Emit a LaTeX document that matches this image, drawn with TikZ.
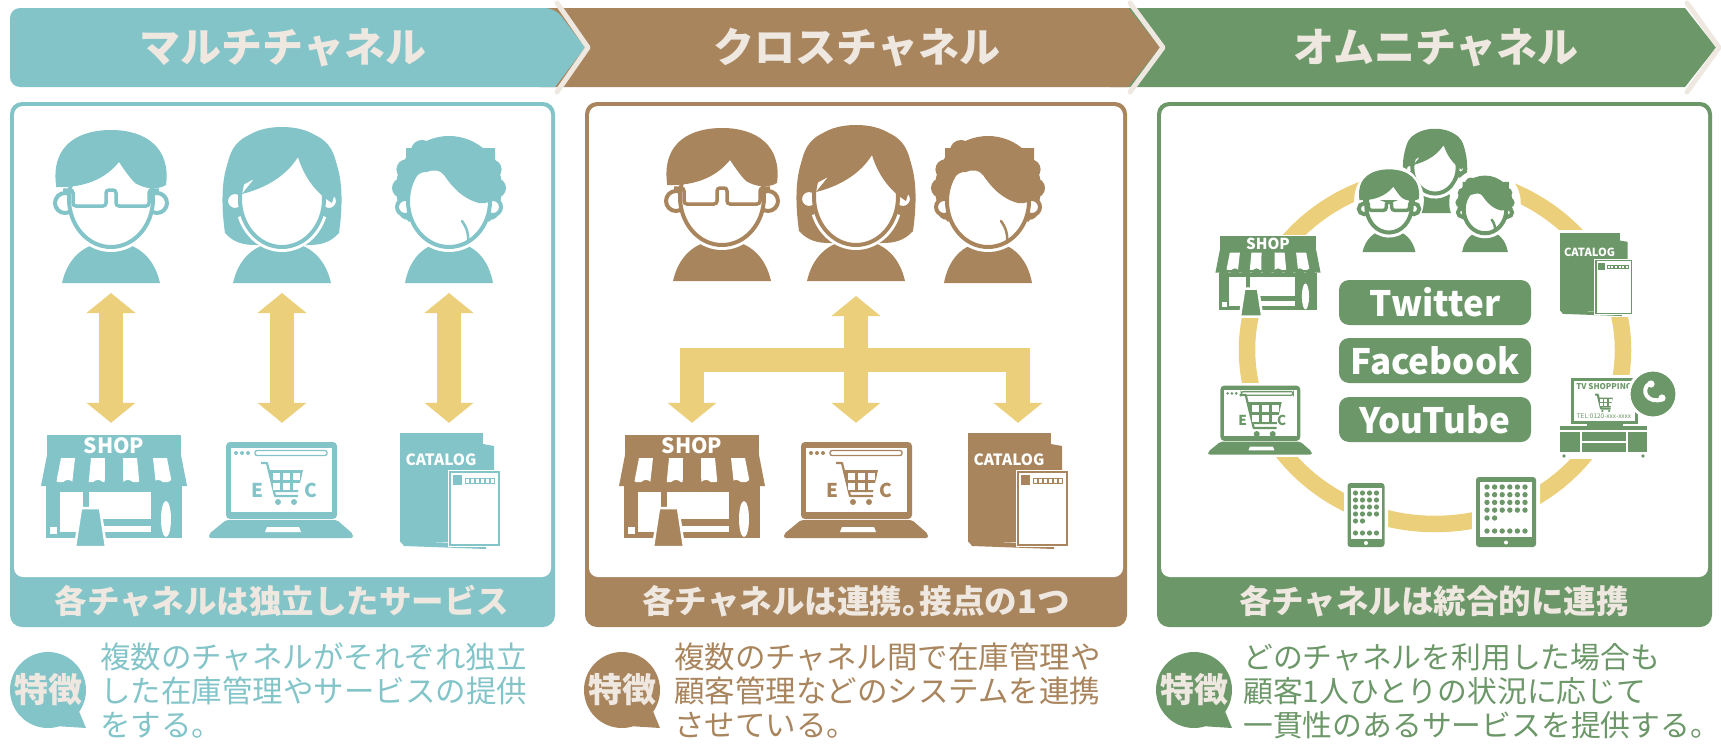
\documentclass[tikz,border=0pt]{standalone}
\usepackage{fontspec}
\setmainfont{Noto Sans CJK JP}
\usepackage{tikz}
\usetikzlibrary{arrows.meta,positioning,calc}

\definecolor{mcol}{RGB}{130,196,200}
\definecolor{ccol}{RGB}{169,133,94}
\definecolor{ocol}{RGB}{108,151,104}
\definecolor{arrcol}{RGB}{236,207,122}
\definecolor{lightc}{RGB}{238,232,225}

\newcommand{\pxfont}[2]{\fontsize{#1}{#2}\selectfont}

\tikzset{
  % people, origin at the bottom middle of the shoulders
  pics/guy/.style={code={
    \path[fill=white, draw=white, line width=7pt]
      (-49,0) .. controls (-44,-22) and (-30,-40) .. (0,-42)
      .. controls (30,-40) and (44,-22) .. (49,0) -- cycle
      (0,-96) ellipse [x radius=58, y radius=60];
    \fill[#1] (-49,0) .. controls (-44,-22) and (-30,-40) .. (0,-42)
      .. controls (30,-40) and (44,-22) .. (49,0) -- cycle;
    \begin{scope}[shift={(0,-84)}]
      \draw[white, line width=10pt] (25:42 and 48) arc [start angle=25, end angle=155, x radius=42, y radius=48];
    \end{scope}
    \filldraw[fill=white, draw=#1, line width=4pt]
      (-46,-80) circle [radius=10] (46,-80) circle [radius=10];
    \filldraw[fill=white, draw=#1, line width=4pt] (0,-84) ellipse [x radius=42, y radius=48];
    \fill[#1] (-55,-98) .. controls (-60,-140) and (-30,-153) .. (0,-153)
      .. controls (35,-153) and (60,-135) .. (55,-98)
      .. controls (45,-92) and (32,-95) .. (24,-100)
      .. controls (18,-106) and (12,-115) .. (8,-121)
      .. controls (-5,-105) and (-25,-95) .. (-55,-96) -- cycle;
    \draw[#1, line width=3.5pt, rounded corners=3pt]
      (-48,-93) -- (-38,-93) -- (-38,-77) -- (-5,-77) -- (-5,-93)
      -- (5,-93) -- (5,-77) -- (38,-77) -- (38,-93) -- (48,-93);
  }},
  pics/gal/.style={code={
    \path[fill=white, draw=white, line width=7pt]
      (-49,0) .. controls (-44,-22) and (-30,-40) .. (0,-42)
      .. controls (30,-40) and (44,-22) .. (49,0) -- cycle
      (0,-97) ellipse [x radius=60, y radius=61];
    \fill[#1] (-57,-50) .. controls (-64,-100) and (-60,-156) .. (0,-156)
      .. controls (60,-156) and (64,-100) .. (57,-50)
      .. controls (48,-40) and (38,-38) .. (26,-38) -- (-26,-38)
      .. controls (-38,-38) and (-48,-40) .. (-57,-50) -- cycle;
    \fill[#1] (-49,0) .. controls (-44,-22) and (-30,-40) .. (0,-42)
      .. controls (30,-40) and (44,-22) .. (49,0) -- cycle;
    \begin{scope}[shift={(0,-84)}]
      \draw[white, line width=10pt] (20:42 and 48) arc [start angle=20, end angle=160, x radius=42, y radius=48];
    \end{scope}
    \filldraw[fill=white, draw=#1, line width=4pt]
      (-47,-82) circle [radius=9] (47,-82) circle [radius=9];
    \filldraw[fill=white, draw=#1, line width=4pt] (0,-84) ellipse [x radius=42, y radius=48];
    \fill[#1] (-54,-90) -- (-28,-104) -- (-40,-89)
      .. controls (-12,-96) and (6,-110) .. (16,-126)
      .. controls (22,-106) and (34,-90) .. (50,-80)
      -- (56,-100) .. controls (56,-140) and (40,-153) .. (0,-153)
      .. controls (-40,-153) and (-56,-140) .. (-56,-100) -- cycle;
  }},
  pics/gran/.style={code={
    \path[fill=white, draw=white, line width=7pt]
      (-44,0) .. controls (-40,-22) and (-27,-40) .. (0,-42)
      .. controls (27,-40) and (40,-22) .. (44,0) -- cycle
      (0,-95) ellipse [x radius=62, y radius=60];
    \begin{scope}[shift={(0,-95)}]
      \fill[#1] (0,0) ellipse [x radius=53, y radius=52];
      \foreach \a in {120,150,180,205,335,360,390,420}
        \fill[#1] (\a:47 and 44) circle [radius=10];
      \fill[#1] (232:44 and 47) circle [radius=11];
    \end{scope}
    \fill[#1] (-44,0) .. controls (-40,-22) and (-27,-40) .. (0,-42)
      .. controls (27,-40) and (40,-22) .. (44,0) -- cycle;
    \begin{scope}[shift={(0,-82)}]
      \draw[white, line width=10pt] (25:41 and 46) arc [start angle=25, end angle=155, x radius=41, y radius=46];
    \end{scope}
    \filldraw[fill=white, draw=#1, line width=4pt]
      (-44,-76) circle [radius=8] (44,-76) circle [radius=8];
    \filldraw[fill=white, draw=#1, line width=4pt] (0,-82) ellipse [x radius=41, y radius=46];
    \fill[#1] (-43,-86) .. controls (-40,-100) and (-32,-112) .. (-22,-111)
      .. controls (-15,-114) and (-9,-113) .. (-5,-108)
      .. controls (3,-96) and (14,-84) .. (30,-80)
      .. controls (38,-79) and (44,-82) .. (46,-86) -- (46,-135) -- (-43,-135) -- cycle;
    \draw[#1, line width=2.5pt, line cap=round] (13,-62) .. controls (18,-55) and (20,-48) .. (19,-41);
  }},
  % shopping cart, origin near the basket
  pics/cart/.style={code={
    \draw[#1, line width=2.2pt, line join=round] (-21,-20) -- (-15,-20) -- (-7,13) -- (16,13);
    \fill[#1] (-14,-13) -- (21,-13) -- (16,9) -- (-7,9) -- cycle;
    \foreach \cx in {-9,1,11}
      \foreach \cy in {-10,0}
        \fill[white] (\cx,\cy) rectangle ++(7,6.5);
    \fill[#1] (-4,19) circle [radius=3] (12,19) circle [radius=3];
  }},
  pics/shop/.style={code={
    \fill[white] (-75,-59) rectangle (75,57);
    \fill[#1] (-67,-57) rectangle (67,-36);
    \node[transform shape, text=white, font=\pxfont{21}{21}\bfseries, inner sep=0] at (0,-46) {SHOP};
    \fill[#1] (-67,-37) -- (67,-37) -- (73,-6) -- (-73,-6) -- cycle;
    \foreach \sx in {-46,-16,16,46}
      \fill[white] (\sx-7,-34) -- (\sx+7,-34) -- (\sx*1.08+8,-10) -- (\sx*1.08-8,-10) -- cycle;
    \fill[#1] (-68,-6) rectangle (68,46);
    \fill[white] (-54,0) rectangle (-31,40);
    \fill[white] (-25,0) rectangle (37,27);
    \fill[white] (-12,34) rectangle (37,40);
    \fill[white] (-64,35) rectangle (-57,42);
    \fill[white] (52,27) ellipse [x radius=5, y radius=18];
    \foreach \sx in {-61,-46,...,64}
      \fill[#1] (\sx,-6) circle [radius=6];
    \filldraw[fill=#1, draw=white, line width=2.5pt] (-33,16) -- (-14,16) -- (-8,55) -- (-39,55) -- cycle;
  }},
  pics/laptop/.style={code={
    \fill[white] (-75,-53) rectangle (75,49);
    \fill[#1, rounded corners=4pt] (-55,-50) rectangle (56,27);
    \fill[white] (-50,-44) rectangle (51,20);
    \fill[#1] (-45,-39) circle [radius=2] (-39,-39) circle [radius=2] (-33,-39) circle [radius=2];
    \draw[#1, line width=1.3pt, rounded corners=2pt] (-26,-41.5) rectangle (46,-36.5);
    \pic at (1,-9) {cart=#1};
    \node[transform shape, text=#1, font=\pxfont{19}{19}\bfseries, inner sep=0] at (-24,-2) {E};
    \node[transform shape, text=#1, font=\pxfont{19}{19}\bfseries, inner sep=0] at (30,-2) {C};
    \fill[#1, rounded corners=2pt] (-55,28) -- (56,28) -- (72,42) -- (72,46) -- (-72,46) -- (-72,42) -- cycle;
    \fill[white] (-14,35) -- (18,35) -- (20,40) -- (-16,40) -- cycle;
  }},
  pics/catalog/.style={code={
    \fill[white] (-53,-62) rectangle (52,59);
    \fill[#1] (-50,49) -- (36,52) -- (36,57) -- (-46,54) -- cycle;
    \fill[#1] (33,-48) -- (44,-46) -- (44,48) -- (33,48) -- cycle;
    \fill[#1] (-50,-59) rectangle (33,50);
    \node[transform shape, text=white, font=\pxfont{15.5}{16}\bfseries, inner sep=0] at (-9,-32) {CATALOG};
    \draw[white, line width=4pt] (0,-20) rectangle (49,53);
    \filldraw[fill=white, draw=#1, line width=1.2pt] (0,-20) rectangle (49,53);
    \fill[#1] (3,-17) rectangle (12,-7);
    \foreach \i in {0,...,5}
      \draw[#1, line width=0.7pt] (15.5+\i*5,-14) rectangle ++(4,5);
  }},
  pics/tvset/.style={code={
    \fill[white] (-47,-43) rectangle (46,41);
    \fill[#1] (-33,-40) rectangle (34,6);
    \fill[white] (-30,-37) rectangle (31,3);
    \node[transform shape, text=#1, font=\pxfont{8}{8}\bfseries, inner sep=0] at (0,-31) {TV SHOPPING};
    \pic[scale=0.42] at (0,-15) {cart=#1};
    \node[transform shape, text=#1, font=\pxfont{6.5}{6.5}, inner sep=0] at (0,-2) {TEL:0120-xxx-xxxx};
    \fill[#1] (-17,4) rectangle (19,8);
    \fill[#1] (-44,8) rectangle (43,34);
    \draw[white, line width=1.2pt] (-44,13) -- (43,13) (-23,13) -- (-23,34) (23,13) -- (23,34) (-23,24) -- (23,24);
    \fill[#1] (-40,38) circle [radius=1.8] (39,38) circle [radius=1.8];
  }},
  pics/phone/.style={code={
    \fill[white, rounded corners=5pt] (-22,-36) rectangle (22,36);
    \fill[#1, rounded corners=3pt] (-18.5,-32) rectangle (18.5,32);
    \fill[white] (-15.5,-27) rectangle (15.5,24);
    \foreach \r in {0,...,3}
      \foreach \c in {0,...,3}
        \fill[#1] (-10.5+\c*7,-22+\r*7) circle [radius=2.6];
    \fill[#1] (-10.5,6) circle [radius=2.6] (-3.5,6) circle [radius=2.6];
    \foreach \c in {0,...,3}
      \fill[#1] (-10.5+\c*7,18) circle [radius=2.6];
    \fill[white] (0,28) circle [radius=2];
  }},
  pics/tablet/.style={code={
    \fill[white, rounded corners=5pt] (-34,-39) rectangle (34,39);
    \fill[#1, rounded corners=3pt] (-30,-35) rectangle (30,35);
    \fill[white] (-26,-30) rectangle (26,25);
    \foreach \r in {0,...,3}
      \foreach \c in {0,...,5}
        \fill[#1] (-19+\c*7.6,-25+\r*7.7) circle [radius=2.7];
    \fill[#1] (-19,6) circle [radius=2.7] (-11.4,6) circle [radius=2.7];
    \foreach \c in {0,...,5}
      \fill[#1] (-19+\c*7.6,19) circle [radius=2.7];
    \fill[white] (0,30.5) circle [radius=2];
  }}
}

\begin{document}
\begin{tikzpicture}[x=1pt, y=-1pt,
  hdr/.style={font=\pxfont{41}{44}\bfseries, text=lightc, inner sep=0},
  lbl/.style={font=\pxfont{32.5}{36}\bfseries, text=lightc, inner sep=0},
  feat/.style={font=\pxfont{30.5}{34}, align=left, anchor=west, inner sep=0},
  bubble/.style={circle, minimum size=76pt, inner sep=0, text=lightc, font=\pxfont{34}{34}\bfseries},
  figbox/.style={minimum width=116pt, minimum height=155pt, inner sep=0, anchor=south},
  iconbox/.style={minimum width=144pt, minimum height=112pt, inner sep=0},
  dbl/.style={arrcol, line width=24pt, {Triangle[width=48pt,length=20pt]}-{Triangle[width=48pt,length=20pt]}},
  sns/.style={fill=ocol, rounded corners=10pt, minimum width=192pt, minimum height=45pt, inner sep=0, text=white, font=\pxfont{35}{35}\bfseries},
  chev/.style={lightc, line width=5pt, line cap=round, line join=round}
]
\useasboundingbox (0,0) rectangle (1721,744);

% header bands, back to front
\fill[ocol] (1110,8) -- (1685,8) -- (1716,47.5) -- (1685,87) -- (1110,87) -- cycle;
\draw[chev] (1687,3) -- (1719,47.5) -- (1687,92);
\fill[ccol] (540,8) -- (1128,8) -- (1160,47.5) -- (1128,87) -- (540,87) -- cycle;
\draw[chev] (1130,3) -- (1163,47.5) -- (1130,92);
\fill[mcol, rounded corners=10pt] (10,8) -- (555,8) [sharp corners] -- (585,47.5) -- (555,87) [rounded corners=10pt] -- (10,87) -- cycle;
\draw[chev] (557,3) -- (588,47.5) -- (557,92);
\node[hdr] (m-head) at (283,48) {マルチチャネル};
\node[hdr] (x-head) at (857,48) {クロスチャネル};
\node[hdr] (o-head) at (1436,48) {オムニチャネル};

% panel frames
\fill[mcol, rounded corners=12pt] (10,102) rectangle (555,627);
\fill[white, rounded corners=9pt] (14,106) rectangle (551,577);
\fill[ccol, rounded corners=12pt] (585,102) rectangle (1127,627);
\fill[white, rounded corners=9pt] (589,106) rectangle (1123,577);
\fill[ocol, rounded corners=12pt] (1157,102) rectangle (1712,627);
\fill[white, rounded corners=9pt] (1161,106) rectangle (1708,577);
\node[lbl] (m-lbl) at (282,601) {各チャネルは独立したサービス};
\node[lbl] (x-lbl) at (856,601) {各チャネルは連携。\kern-0.45em 接点の1つ};
\node[lbl] (o-lbl) at (1434,601) {各チャネルは統合的に連携};

% multi channel
\node[figbox] (m-guy) at (111,283) {};
\node[figbox] (m-gal) at (282,283) {};
\node[figbox] (m-gran) at (449,283) {};
\pic at (m-guy.south) {guy=mcol};
\pic at (m-gal.south) {gal=mcol};
\pic at (m-gran.south) {gran=mcol};
\node[iconbox] (m-shop) at (114,492) {};
\node[iconbox] (m-ec) at (281,492) {};
\node[iconbox, minimum width=100pt] (m-cat) at (450,492) {};
\pic at (m-shop) {shop=mcol};
\pic at (m-ec) {laptop=mcol};
\pic at (m-cat) {catalog=mcol};
\draw[dbl, shorten <=10pt, shorten >=13pt] (m-guy.south) -- (m-guy.south |- m-shop.north);
\draw[dbl, shorten <=10pt, shorten >=13pt] (m-gal.south) -- (m-gal.south |- m-ec.north);
\draw[dbl, shorten <=10pt, shorten >=13pt] (m-gran.south) -- (m-gran.south |- m-cat.north);

% cross channel
\node[figbox] (x-guy) at (722,281) {};
\node[figbox] (x-gal) at (856,281) {};
\node[figbox] (x-gran) at (988,283) {};
\pic at (x-guy.south) {guy=ccol};
\pic at (x-gal.south) {gal=ccol};
\pic at (x-gran.south) {gran=ccol};
\node[iconbox] (x-shop) at (692,492) {};
\node[iconbox] (x-ec) at (856,492) {};
\node[iconbox, minimum width=100pt] (x-cat) at (1018,492) {};
\pic at (x-shop) {shop=ccol};
\pic at (x-ec) {laptop=ccol};
\pic at (x-cat) {catalog=ccol};
\coordinate (x-hub) at (856,359.5);
\draw[dbl, line join=miter, shorten <=13pt, shorten >=13pt] (x-shop.north) |- (x-hub) -| (x-cat.north);
\draw[dbl, shorten <=13pt, shorten >=15pt] (x-ec.north) -- (x-ec.north |- x-gal.south);

% omni channel
\draw[arrcol, line width=16.5pt] (1435,350) ellipse [x radius=188, y radius=174];
\node[minimum width=160pt, minimum height=125pt, inner sep=0] (o-users) at (1436,190) {};
\pic[scale=0.54] at (1435,213) {gal=ocol};
\pic[scale=0.54] at (1389,252) {guy=ocol};
\pic[scale=0.52] at (1485,252) {gran=ocol};
\node[minimum width=104pt, minimum height=81pt, inner sep=0] (o-shop) at (1268,277) {};
\node[minimum width=72pt, minimum height=82pt, inner sep=0] (o-cat) at (1596,275) {};
\node[minimum width=104pt, minimum height=70pt, inner sep=0] (o-ec) at (1260,421.5) {};
\node[minimum width=88pt, minimum height=80pt, inner sep=0] (o-tv) at (1604,418) {};
\node[minimum width=37pt, minimum height=64pt, inner sep=0] (o-phone) at (1366,515) {};
\node[minimum width=60pt, minimum height=70pt, inner sep=0] (o-tab) at (1506,512) {};
\pic[scale=0.72] at (o-shop) {shop=ocol};
\pic[scale=0.72] at (o-cat) {catalog=ocol};
\pic[scale=0.72] at (o-ec) {laptop=ocol};
\pic at (o-tv) {tvset=ocol};
\pic at (o-phone) {phone=ocol};
\pic at (o-tab) {tablet=ocol};
\node[circle, fill=ocol, draw=white, line width=3pt, minimum size=48pt, inner sep=0] (o-call) at (1653,394) {};
\begin{scope}[shift={(o-call.center)}]
  \draw[white, line width=4pt, line cap=round] (-3,-11) .. controls (-14,-4) and (-5,11) .. (10,5);
  \fill[white] (-2,-10) circle [radius=3.6] (9,4) circle [radius=3.6];
\end{scope}
\node[sns] (o-tw) at (1435,302.5) {Twitter};
\node[sns] (o-fb) at (1435,360.5) {Facebook};
\node[sns] (o-yt) at (1435,419.5) {YouTube};

% feature notes
\node[bubble, fill=mcol] (m-tok) at (48,690) {特徴};
\fill[mcol] (m-tok.-35) -- ($(m-tok)+(38,38)$) -- (m-tok.-72) -- cycle;
\node[feat, text=mcol] (m-feat) at (100,691) {複数のチャネルがそれぞれ独立\\した在庫管理やサービスの提供\\をする。};
\node[bubble, fill=ccol] (x-tok) at (622,690) {特徴};
\fill[ccol] (x-tok.-35) -- ($(x-tok)+(38,38)$) -- (x-tok.-72) -- cycle;
\node[feat, text=ccol] (x-feat) at (674,691) {複数のチャネル間で在庫管理や\\顧客管理などのシステムを連携\\させている。};
\node[bubble, fill=ocol] (o-tok) at (1194,690) {特徴};
\fill[ocol] (o-tok.-35) -- ($(o-tok)+(38,38)$) -- (o-tok.-72) -- cycle;
\node[feat, text=ocol, font=\pxfont{29.8}{34}] (o-feat) at (1243,691) {どのチャネルを利用した場合も\\顧客1人ひとりの状況に応じて\\一貫性のあるサービスを提供する。};
\end{tikzpicture}
\end{document}
